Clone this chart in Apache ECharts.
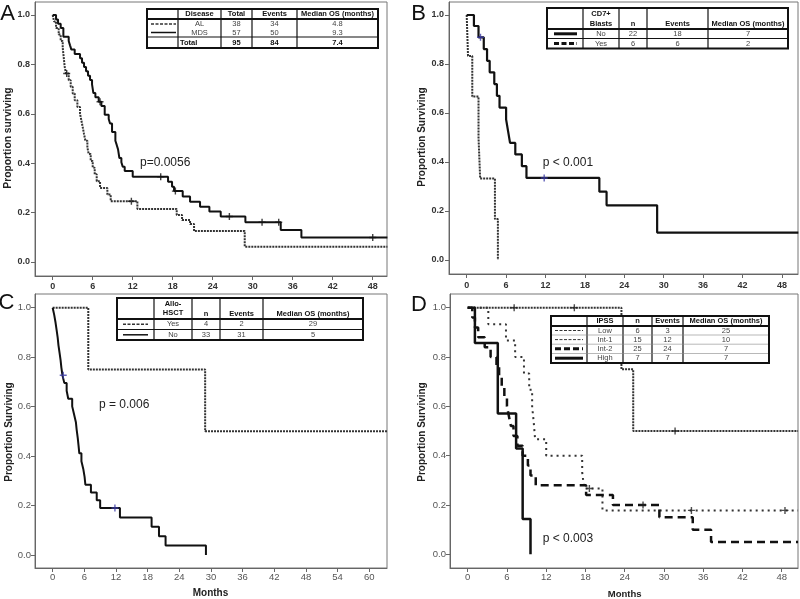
<!DOCTYPE html>
<html><head><meta charset="utf-8">
<script src="https://cdn.jsdelivr.net/npm/echarts@6/dist/echarts.min.js"></script>
<style>html,body{margin:0;padding:0;background:#fff}#c{width:800px;height:599px}</style>
</head><body><div id="c"></div>
<script>
// ---------------- DATA ----------------
// Panel A: Disease (months, proportion surviving)
const aMDS = [[0,1],[0.5,0.982],[0.8,0.965],[1.2,0.947],[1.6,0.912],[2.4,0.895],[2.6,0.877],[2.8,0.86],[3.3,0.842],[4.1,0.825],[4.4,0.807],[4.7,0.789],[5.0,0.772],[5.3,0.754],[5.6,0.737],[5.9,0.719],[6.1,0.684],[6.4,0.667],[6.9,0.649],[7.3,0.632],[7.8,0.596],[8.4,0.579],[8.6,0.561],[8.9,0.526],[9.4,0.491],[9.6,0.474],[9.8,0.456],[10.0,0.421],[10.3,0.404],[10.5,0.386],[10.8,0.368],[12.0,0.345],[17.3,0.325],[17.9,0.305],[18.2,0.287],[19.5,0.265],[20.6,0.244],[22.1,0.224],[23.5,0.204],[25.2,0.184],[28.9,0.161],[34.2,0.13],[37.3,0.099],[50.2,0.099]];
const aAL = [[0,1],[0.2,0.974],[0.5,0.947],[0.9,0.921],[1.2,0.895],[1.5,0.868],[1.6,0.842],[1.7,0.816],[1.8,0.79],[2.0,0.763],[2.4,0.736],[2.7,0.709],[3.0,0.682],[3.3,0.655],[3.7,0.627],[4.1,0.6],[4.3,0.573],[4.5,0.546],[4.7,0.518],[4.9,0.491],[5.2,0.464],[5.4,0.437],[5.7,0.409],[6.0,0.382],[6.3,0.355],[6.6,0.327],[7.1,0.3],[8.2,0.273],[8.7,0.246],[12.7,0.215],[18.6,0.19],[19.4,0.17],[20.6,0.154],[21.2,0.125],[28.8,0.062],[50.2,0.062]];
const aMDScens = [[7.1,0.649],[16.2,0.345],[18.4,0.287],[26.5,0.184],[31.4,0.161],[33.9,0.161],[48,0.099]];
const aALcens = [[2.1,0.763],[11.8,0.246]];
// Panel B: CD7+ blasts
const bNo = [[0,1],[1.1,0.955],[1.8,0.909],[2.6,0.861],[3.1,0.813],[3.5,0.766],[4.2,0.718],[4.6,0.67],[5.0,0.622],[6.0,0.574],[6.3,0.526],[6.6,0.478],[7.4,0.431],[8.4,0.383],[9.1,0.335],[20.2,0.279],[21.3,0.223],[29.0,0.112],[50.5,0.112]];
const bYes = [[0,1],[0.2,0.833],[0.85,0.667],[1.8,0.5],[2.05,0.333],[4.3,0.167],[4.75,0]];
const bNoCens = [[2.1,0.909],[11.8,0.335]];
// Panel C: Allo-HSCT
const cYes = [[0,1],[6.75,0.75],[28.9,0.5],[63.4,0.5]];
const cNo = [[0,1],[0.3,0.97],[0.55,0.939],[0.75,0.909],[0.95,0.879],[1.1,0.848],[1.3,0.818],[1.5,0.788],[1.65,0.758],[1.85,0.727],[2.2,0.696],[2.65,0.664],[2.95,0.632],[3.7,0.601],[4.05,0.569],[4.4,0.537],[4.55,0.506],[4.75,0.474],[4.9,0.443],[5.05,0.411],[5.45,0.379],[5.8,0.348],[6.05,0.316],[6.2,0.284],[7.25,0.253],[8.35,0.221],[9.0,0.19],[12.75,0.152],[18.75,0.114],[20.15,0.076],[21.4,0.038],[29.05,0]];
const cNoCens = [[2.0,0.727],[11.8,0.19]];
// Panel D: IPSS
const dLow = [[0,1],[23.5,0.75],[25.3,0.5],[50.5,0.5]];
const dInt1 = [[0,1],[3.15,0.933],[5.85,0.867],[7.25,0.8],[8.6,0.733],[9.4,0.667],[9.85,0.6],[10.1,0.533],[10.3,0.467],[12.0,0.4],[17.5,0.333],[17.8,0.267],[20.6,0.178],[50.5,0.178]];
const dInt2 = [[0,1],[0.7,0.96],[1.1,0.92],[1.6,0.88],[2.6,0.84],[3.5,0.8],[4.4,0.76],[4.8,0.72],[5.2,0.68],[5.6,0.64],[6.0,0.6],[6.3,0.56],[6.6,0.52],[7.0,0.48],[7.6,0.44],[8.4,0.4],[9.2,0.36],[9.6,0.32],[10.4,0.28],[18.1,0.24],[22.2,0.2],[29.3,0.15],[34.4,0.1],[37.2,0.05],[50.5,0.05]];
const dHigh = [[0,1],[1.1,0.857],[4.6,0.571],[7.4,0.429],[8.4,0.143],[9.6,0]];
const dLowCens = [[7.1,1],[16.3,1],[31.7,0.5]];
const dInt1Cens = [[18.6,0.267],[34.2,0.178],[48.5,0.178]];
const dInt2Cens = [[26.8,0.2]];
// Tick labels
const xTicks48 = [0,6,12,18,24,30,36,42,48];
const xTicks60 = [0,6,12,18,24,30,36,42,48,54,60];
const yTicks = [0,0.2,0.4,0.6,0.8,1.0];
// Table texts
const tabAHead = ['Disease','Total','Events','Median OS (months)'];
const tabARows = [['AL','38','34','4.8'],['MDS','57','50','9.3']];
const tabATotal = ['Total','95','84','7.4'];
const tabBHead = ['CD7+','Blasts','n','Events','Median OS (months)'];
const tabBRows = [['No','22','18','7'],['Yes','6','6','2']];
const tabCHead = ['Allo-','HSCT','n','Events','Median OS (months)'];
const tabCRows = [['Yes','4','2','29'],['No','33','31','5']];
const tabDHead = ['IPSS','n','Events','Median OS (months)'];
const tabDRows = [['Low','6','3','25'],['Int-1','15','12','10'],['Int-2','25','24','7'],['High','7','7','7']];
const pTexts = ['p=0.0056','p < 0.001','p = 0.006','p < 0.003'];
const panelLetters = ['A','B','C','D'];
const yTitles = ['Proportion surviving','Proportion Surviving','Proportion Surviving','Proportion Surviving'];
const xTitle = 'Months';

// ---------------- LAYOUT ----------------
const FONT = '"Liberation Sans", Arial, Helvetica, sans-serif';
const G = [];
function T(x, y, text, o) {
  o = o || {};
  const al = o.align || 'center', va = o.va || 'middle';
  G.push({type:'text', x:x, y:y, z:o.z||110, rotation:o.rot||0,
    style:{text:text, fill:o.color||'#222', font:(o.weight||'normal')+' '+(o.size||8)+'px '+FONT,
      align:al, verticalAlign:va, textAlign:al, textVerticalAlign:va}});
}
function L(x1,y1,x2,y2,w,dash,color){
  G.push({type:'line', z:105, shape:{x1:x1,y1:y1,x2:x2,y2:y2}, style:{stroke:color||'#111', lineWidth:w||1, lineDash:dash||null}});
}
function R(x,y,w,h,lw){
  G.push({type:'rect', z:100, shape:{x:x,y:y,width:w,height:h}, style:{fill:'#fff', stroke:'#111', lineWidth:lw||2}});
}
function tableFrame(cols, top, bottom, hlines){
  R(cols[0], top, cols[cols.length-1]-cols[0], bottom-top, 2);
  for (let i=1;i<cols.length-1;i++) L(cols[i], top, cols[i], bottom, 1.2);
  hlines.forEach(h => L(cols[0]+1, h[0], cols[cols.length-1]-1, h[0], h[1], null, h[2]));
}
function mid(cols,i){ return (cols[i]+cols[i+1])/2; }
const HC = '#111', VC = '#444';

// Table A
(function(){
  const c=[147,178,221,252,297,378];
  tableFrame(c, 9, 48, [[19,2],[37,1.2]]);
  for (let i=0;i<4;i++) T(mid(c,i+1), 14.2, tabAHead[i], {weight:'bold', size:7.5, color:HC});
  const ys=[24,32.5];
  tabARows.forEach((r,k)=>{ for(let i=0;i<4;i++) T(mid(c,i+1), ys[k], r[i], {size:7.5, color:VC}); });
  T(180, 42.5, tabATotal[0], {weight:'bold', size:7.5, color:HC, align:'left'});
  for (let i=1;i<4;i++) T(mid(c,i+1), 42.5, tabATotal[i], {weight:'bold', size:7.5, color:HC});
  L(151,24,176,24,1.5,[3,1.5],'#333');
  L(151,32.5,176,32.5,1.5,null,'#111');
})();
// Table B
(function(){
  const c=[547,583,619,647,708,788];
  tableFrame(c, 8, 48.5, [[29,2],[38.5,1]]);
  T(mid(c,1), 14, tabBHead[0], {weight:'bold', size:7.5, color:HC});
  T(mid(c,1), 23.5, tabBHead[1], {weight:'bold', size:7.5, color:HC});
  for (let i=2;i<5;i++) T(mid(c,i), 23.5, tabBHead[i], {weight:'bold', size:7.5, color:HC});
  const ys=[33.8,43.5];
  tabBRows.forEach((r,k)=>{ for(let i=0;i<4;i++) T(mid(c,i+1), ys[k], r[i], {size:7.5, color:VC}); });
  L(554,33.8,577,33.8,3,null,'#111');
  L(554,43.5,577,43.5,3,[5,2.5],'#111');
})();
// Table C
(function(){
  const c=[117,154,192,220,263,363];
  tableFrame(c, 298, 340, [[319,2],[329.5,1]]);
  T(mid(c,1), 303.5, tabCHead[0], {weight:'bold', size:7.5, color:HC});
  T(mid(c,1), 313.3, tabCHead[1], {weight:'bold', size:7.5, color:HC});
  for (let i=2;i<5;i++) T(mid(c,i), 313.5, tabCHead[i], {weight:'bold', size:7.5, color:HC});
  const ys=[324.3,334.8];
  tabCRows.forEach((r,k)=>{ for(let i=0;i<4;i++) T(mid(c,i+1), ys[k], r[i], {size:7.5, color:VC}); });
  L(123,324.3,148,324.3,1.5,[3,1.5],'#333');
  L(123,334.8,148,334.8,1.5,null,'#111');
})();
// Table D
(function(){
  const c=[551,587,623,652,683,769];
  tableFrame(c, 316, 363, [[326,2],[335,0.6,'#888'],[344.2,0.6,'#888'],[353.5,0.6,'#888']]);
  for (let i=0;i<4;i++) T(mid(c,i+1), 321, tabDHead[i], {weight:'bold', size:7.5, color:HC});
  const ys=[330.5,339.6,348.8,358.2];
  tabDRows.forEach((r,k)=>{ for(let i=0;i<4;i++) T(mid(c,i+1), ys[k], r[i], {size:7.5, color:VC}); });
  L(555,330.5,583,330.5,1,[3,1.5],'#333');
  L(555,339.6,583,339.6,1,[3,1.5],'#333');
  L(555,348.8,583,348.8,3,[6,3],'#111');
  L(555,358.2,583,358.2,3,null,'#111');
})();

// Letters, titles, p-values
T(7.5,13.5,panelLetters[0],{size:22,color:'#111'});
T(418.5,13.5,panelLetters[1],{size:22,color:'#111'});
T(6.5,303,panelLetters[2],{size:22,color:'#111'});
T(419,305,panelLetters[3],{size:22,color:'#111'});
T(8,138,yTitles[0],{size:10.3,weight:'bold',color:'#222',rot:Math.PI/2});
T(422,137,yTitles[1],{size:10,weight:'bold',color:'#222',rot:Math.PI/2});
T(9,432,yTitles[2],{size:10,weight:'bold',color:'#222',rot:Math.PI/2});
T(422,432,yTitles[3],{size:10,weight:'bold',color:'#222',rot:Math.PI/2});
T(210.5,593.3,xTitle,{size:10,weight:'bold',color:'#222'});
T(624.7,594,xTitle,{size:9.5,weight:'bold',color:'#222'});
T(140,163,pTexts[0],{size:12,align:'left',color:'#222'});
T(542.7,163,pTexts[1],{size:12,align:'left',color:'#222'});
T(99,405,pTexts[2],{size:12,align:'left',color:'#222'});
T(542.7,538.3,pTexts[3],{size:12,align:'left',color:'#222'});

// ---------------- AXES ----------------
const grids = [
  {left:35, top:2, width:352, height:274},
  {left:449, top:2, width:349, height:272},
  {left:35, top:294, width:352, height:274},
  {left:450, top:294, width:348, height:274}
].map(g => Object.assign({show:true, borderColor:'#777', borderWidth:1, containLabel:false}, g));
const xr = [[-2.655,50.14],[-2.695,50.45],[-3.35,63.37],[-2.706,50.49]];
const yr = [[-0.0567,1.0526],[-0.0571,1.053],[-0.0526,1.0554],[-0.0556,1.0556]];
const labStyle = [
  {size:9, weight:'bold', color:'#333', xm:6, ym:5},
  {size:9, weight:'bold', color:'#333', xm:7.5, ym:5},
  {size:9.5, weight:'normal', color:'#555', xm:4.5, ym:4},
  {size:9.5, weight:'normal', color:'#555', xm:4.5, ym:4}
];
const xAxes = [], yAxes = [];
for (let i=0;i<4;i++){
  const ls = labStyle[i];
  const xt = i===2 ? xTicks60 : xTicks48;
  xAxes.push({type:'value', gridIndex:i, min:xr[i][0], max:xr[i][1],
    axisLine:{show:true, onZero:false, lineStyle:{color:'#666', width:1}},
    axisTick:{show:true, customValues:xt, length:4, lineStyle:{color:'#666'}},
    axisLabel:{customValues:xt, margin:ls.xm, fontSize:ls.size, fontWeight:ls.weight, color:ls.color, fontFamily:FONT},
    splitLine:{show:false}});
  yAxes.push({type:'value', gridIndex:i, min:yr[i][0], max:yr[i][1],
    axisLine:{show:true, onZero:false, lineStyle:{color:'#666', width:1}},
    axisTick:{show:true, customValues:yTicks, length:4, lineStyle:{color:'#666'}},
    axisLabel:{customValues:yTicks, margin:ls.ym, fontSize:ls.size, fontWeight:ls.weight, color:ls.color, fontFamily:FONT, formatter:v=>v.toFixed(1)},
    splitLine:{show:false}});
}

// ---------------- SERIES ----------------
const PLUS = 'path://M4,0H6V4H10V6H6V10H4V6H0V4H4Z';
function km(i, data, color, width, type){
  return {type:'line', xAxisIndex:i, yAxisIndex:i, step:'end', symbol:'none', data:data,
    lineStyle:{color:color, width:width, type:type||'solid'}, silent:true, z:3};
}
function cens(i, data, color, size){
  return {type:'scatter', xAxisIndex:i, yAxisIndex:i, symbol:PLUS, symbolSize:size||7, data:data,
    itemStyle:{color:color}, silent:true, z:4};
}
const BLUE = '#3c3ca8';
const series = [
  km(0, aAL, '#333', 2, [2,1]),
  km(0, aMDS, '#111', 2),
  cens(0, aALcens, '#111'), cens(0, aMDScens, '#111'),
  km(1, bYes, '#333', 2, [2,1]),
  km(1, bNo, '#111', 2.2),
  cens(1, bNoCens, BLUE),
  km(2, cYes, '#333', 2, [2,1]),
  km(2, cNo, '#111', 2),
  cens(2, cNoCens, BLUE),
  km(3, dLow, '#333', 2, [2,1]),
  km(3, dInt1, '#333', 2, [2,4]),
  km(3, dInt2, '#111', 2.5, [8,5]),
  km(3, dHigh, '#111', 2.5),
  cens(3, dLowCens, '#222'), cens(3, dInt1Cens, '#222'), cens(3, dInt2Cens, '#222')
];

const chart = echarts.init(document.getElementById('c'), null, {renderer:'canvas'});
chart.setOption({
  animation:false,
  backgroundColor:'#fff',
  textStyle:{fontFamily:FONT},
  grid:grids, xAxis:xAxes, yAxis:yAxes, series:series, graphic:G
});
</script></body></html>
